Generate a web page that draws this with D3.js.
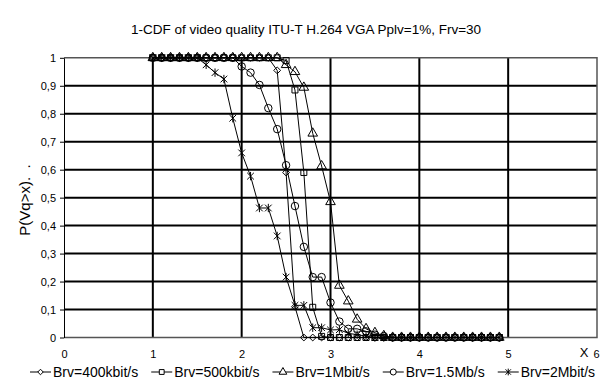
<!DOCTYPE html>
<html>
<head>
<meta charset="utf-8">
<script src="https://cdn.jsdelivr.net/npm/d3@7"></script>
<style>
  body { margin: 0; background: #fff; }
  svg { display: block; font-family: "Liberation Sans", Arial, sans-serif; }
</style>
</head>
<body>
<svg id="chart" width="608" height="380"></svg>
<script>
'use strict';

const chartTitle = "1-CDF of video quality ITU-T H.264 VGA Pplv=1%, Frv=30";
const seriesNames = ["Brv=400kbit/s", "Brv=500kbit/s", "Brv=1Mbit/s", "Brv=1.5Mb/s", "Brv=2Mbit/s"];
const xTicks = [0, 1, 2, 3, 4, 5, 6];
const yTicks = [0, 0.1, 0.2, 0.3, 0.4, 0.5, 0.6, 0.7, 0.8, 0.9, 1];

const xValues = [1.0, 1.1, 1.2, 1.3, 1.4, 1.5, 1.6, 1.7, 1.8, 1.9,
                 2.0, 2.1, 2.2, 2.3, 2.4, 2.5, 2.6, 2.7, 2.8, 2.9,
                 3.0, 3.1, 3.2, 3.3, 3.4, 3.5, 3.6, 3.7, 3.8, 3.9,
                 4.0, 4.1, 4.2, 4.3, 4.4, 4.5, 4.6, 4.7, 4.8, 4.9];

const brv400 = [1, 1, 1, 1, 1, 1, 1, 1, 1, 1,
                1, 1, 1, 1, 0.955, 0.59, 0.11, 0, 0, 0,
                0, 0, 0, 0, 0, 0, 0, 0, 0, 0,
                0, 0, 0, 0, 0, 0, 0, 0, 0, 0];
const brv500 = [1, 1, 1, 1, 1, 1, 1, 1, 1, 1,
                1, 1, 1, 1, 1, 0.99, 0.885, 0.59, 0.108, 0.004,
                0, 0, 0, 0, 0, 0, 0, 0, 0, 0,
                0, 0, 0, 0, 0, 0, 0, 0, 0, 0];
const brv1M = [1, 1, 1, 1, 1, 1, 1, 1, 1, 1,
               1, 1, 1, 1, 1, 0.975, 0.95, 0.894, 0.73, 0.613,
               0.485, 0.186, 0.13, 0.065, 0.031, 0.017, 0.006, 0, 0, 0,
               0, 0, 0, 0, 0, 0, 0, 0, 0, 0];
const brv15M = [1, 1, 1, 1, 1, 1, 1, 1, 1, 1,
                0.969, 0.947, 0.903, 0.82, 0.745, 0.616, 0.47, 0.324, 0.216, 0.216,
                0.125, 0.057, 0.031, 0.031, 0.022, 0.01, 0.005, 0, 0, 0,
                0, 0, 0, 0, 0, 0, 0, 0, 0, 0];
const brv2M = [1, 1, 1, 1, 1, 1, 0.975, 0.947, 0.924, 0.784,
               0.66, 0.577, 0.463, 0.463, 0.363, 0.216, 0.115, 0.115, 0.035, 0.035,
               0.027, 0.028, 0.015, 0.01, 0.005, 0, 0, 0, 0, 0,
               0, 0, 0, 0, 0, 0, 0, 0, 0, 0];

const allSeries = [brv400, brv500, brv1M, brv15M, brv2M];

// asterisk: X plus vertical bar
const symbolStar = {
  draw(ctx, size) {
    const r = Math.sqrt(size) / 2;
    const d = r * 0.8;
    ctx.moveTo(-d, -d); ctx.lineTo(d, d);
    ctx.moveTo(d, -d); ctx.lineTo(-d, d);
    ctx.moveTo(0, -r); ctx.lineTo(0, r);
  }
};
const markerTypes = [d3.symbolDiamond2 || d3.symbolDiamond, d3.symbolSquare, d3.symbolTriangle, d3.symbolCircle, symbolStar];
const markerSizes = [30, 36, 40, 44, 70];

const svg = d3.select("#chart");
const margin = { top: 57.8, right: 11, bottom: 42.5, left: 64 };
const width = 608, height = 380;

const x = d3.scaleLinear().domain([0, 6]).range([margin.left, width - margin.right]);
const y = d3.scaleLinear().domain([0, 1]).range([height - margin.bottom, margin.top]);

svg.append("text")
  .attr("x", 306)
  .attr("y", 34)
  .attr("text-anchor", "middle")
  .style("font-size", "13.5px")
  .text(chartTitle);

// Grid lines
svg.append("g")
  .selectAll("line")
  .data(yTicks.filter(d => d > 0 && d < 1))
  .enter()
  .append("line")
  .attr("x1", x(0))
  .attr("x2", x(6))
  .attr("y1", d => y(d))
  .attr("y2", d => y(d))
  .attr("stroke", "#000")
  .attr("stroke-width", 2);

svg.append("g")
  .selectAll("line")
  .data(xTicks.filter(d => d > 0 && d < 6))
  .enter()
  .append("line")
  .attr("x1", d => x(d))
  .attr("x2", d => x(d))
  .attr("y1", y(0))
  .attr("y2", y(1))
  .attr("stroke", "#000")
  .attr("stroke-width", 2);

// frame: top, right, bottom in grey
svg.append("path")
  .attr("d", `M${x(0)},${y(1)}H${x(6)}V${y(0)}H${x(0)}`)
  .attr("fill", "none")
  .attr("stroke", "#555")
  .attr("stroke-width", 1.5);

const yAxis = svg.append("g")
  .attr("transform", `translate(${x(0)},0)`)
  .call(d3.axisLeft(y).tickValues(yTicks).tickSize(4).tickSizeOuter(0).tickPadding(4)
    .tickFormat(d => (d === 0 || d === 1) ? String(d) : d.toFixed(1).replace(".", ",")));
yAxis.select(".domain").attr("stroke", "#000");
yAxis.selectAll("text").style("font-size", "11px").attr("fill", "#000").style("font-family", "inherit");

const xAxis = svg.append("g")
  .attr("transform", `translate(0,${y(0)})`)
  .call(d3.axisBottom(x).tickValues(xTicks).tickSize(0).tickPadding(13).tickFormat(d3.format("d")));
xAxis.select(".domain").remove();
xAxis.selectAll("text").style("font-size", "11px").attr("fill", "#000").style("font-family", "inherit");
xAxis.selectAll(".tick").filter(d => d === 6).select("text").attr("dx", -1);

svg.append("text")
  .attr("x", 584)
  .attr("y", 357)
  .attr("text-anchor", "middle")
  .style("font-size", "13px")
  .text("X");

svg.append("text")
  .attr("transform", `translate(30,200) rotate(-90)`)
  .attr("text-anchor", "middle")
  .style("font-size", "15px")
  .style("white-space", "pre")
  .text("P(Vq>x).  .");

const line = d3.line()
  .x((d, i) => x(xValues[i]))
  .y(d => y(d));

allSeries.forEach((data, k) => {
  svg.append("path")
    .datum(data)
    .attr("fill", "none")
    .attr("stroke", "#000")
    .attr("stroke-width", 1)
    .attr("d", line);

  svg.append("g")
    .selectAll("path")
    .data(data)
    .enter()
    .append("path")
    .attr("transform", (d, i) => `translate(${x(xValues[i])},${y(d)})`)
    .attr("d", d3.symbol().type(markerTypes[k]).size(markerSizes[k]))
    .attr("fill", "none")
    .attr("stroke", "#000")
    .attr("stroke-width", 1);
});

// Legend
const legend = svg.append("g").attr("transform", "translate(30,372)");
let lx = 0;
seriesNames.forEach((name, k) => {
  const item = legend.append("g").attr("transform", `translate(${lx},0)`);
  item.append("line")
    .attr("x1", 0).attr("x2", 21)
    .attr("y1", 0).attr("y2", 0)
    .attr("stroke", "#000");
  item.append("path")
    .attr("transform", "translate(10.5,0)")
    .attr("d", d3.symbol().type(markerTypes[k]).size(markerSizes[k] * 0.65))
    .attr("fill", "#fff")
    .attr("stroke", "#000");
  const t = item.append("text")
    .attr("x", 23)
    .attr("y", 5)
    .style("font-size", "14px")
    .text(name);
  lx += 23 + t.node().getComputedTextLength() + 13;
});
</script>
</body>
</html>
